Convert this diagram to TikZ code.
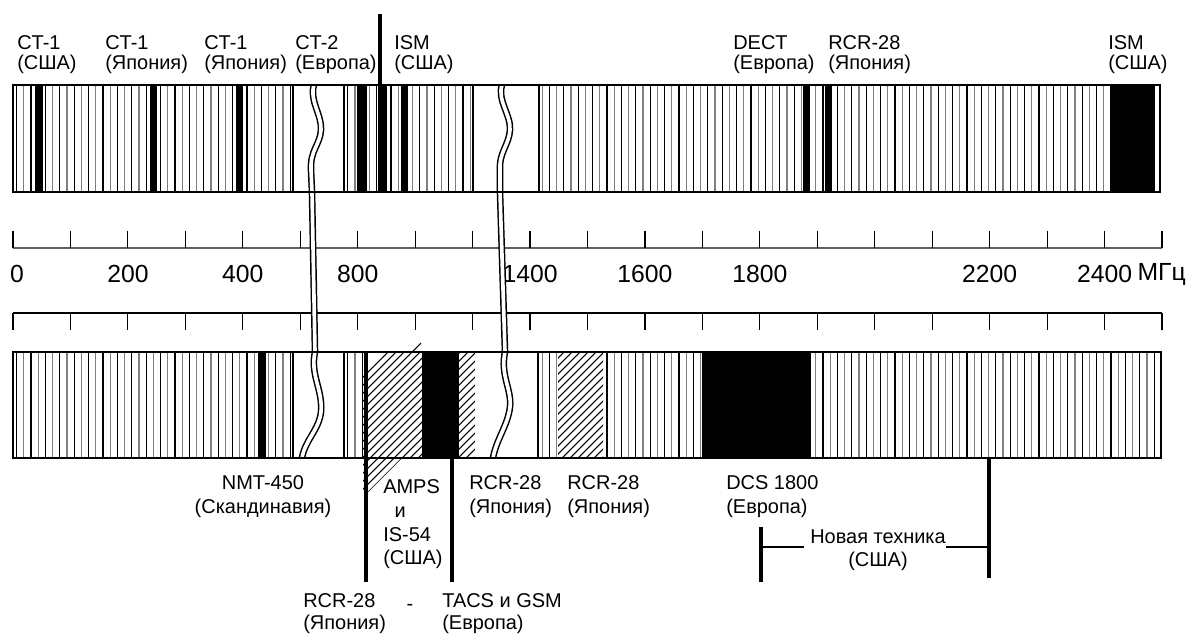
\documentclass[tikz,border=0pt]{standalone}
\usepackage{fontspec}
\setmainfont{Liberation Sans}

\tikzset{
  barframe/.style={line width=2.1pt},
  stripe/.style={line width=0.75pt},
  gapbox/.style={fill=white, draw=black, line width=2.1pt},
  wave/.style={draw=black, double=white, double distance=2.6pt, line width=1.05pt},
  hatch/.style={line width=0.75pt},
  pointer/.style={line width=2.8pt},
  lbl/.style={inner sep=0pt, anchor=north west, align=left, font=\fontsize{14.2pt}{17pt}\selectfont},
  toplbl/.style={lbl, font=\fontsize{14.2pt}{14.4pt}\selectfont},
  scalelbl/.style={inner sep=0pt, font=\fontsize{17.6pt}{20pt}\selectfont},
}

% diagonal hatch inside the lower band, between two x positions
\newcommand{\hatchfill}[2]{%
  \begin{scope}
    \clip (#1,352) rectangle (#2,458);
    \fill[white] (#1,352) rectangle (#2,458);
    \foreach \k in {240,248,...,620}
      \draw[hatch] (\k,500) -- ++(160,-160);
  \end{scope}}

\begin{document}
\begin{tikzpicture}[x=0.025cm, y=-0.025cm]
    \useasboundingbox (0,0) rectangle (1198,633);

    % stripes of both bands
    \foreach \yt/\yb in {85/192,352/458} {
      \begin{scope}
        \clip (13,\yt) rectangle (1160,\yb);
        \foreach \i in {0,...,80} {
          \draw[stripe] ({16.6+14.4*\i},\yt) -- ({16.6+14.4*\i},\yb);
          \draw[stripe, gray] ({23.8+14.4*\i},\yt) -- ({23.8+14.4*\i},\yb);
        }
      \end{scope}
    }

    % upper band
    \foreach \a/\b in {35/43,150/157,236/243,357/367,378/387,401/408,803/810,825/832,1111/1155}
      \fill (\a,85) rectangle (\b,192);
    \draw[gapbox] (293,85) rectangle (344,192);
    \draw[gapbox] (473,85) rectangle (539,192);

    % lower band
    \hatchfill{363}{422}
    \begin{scope}
      \clip (363,458) -- (402,458) -- (366,494) -- (363,494) -- cycle;
      \foreach \k in {240,248,...,620}
        \draw[hatch] (\k,500) -- ++(160,-160);
    \end{scope}
    \draw[hatch] (412,352) -- (421,343);
    \hatchfill{459}{475}
    \hatchfill{558}{603}
    \foreach \a/\b in {258/266,422/459,702/811}
      \fill (\a,352) rectangle (\b,458);
    \draw[gapbox] (293,352) rectangle (344,458);
    \fill[white] (475,352) rectangle (538,458);
    \draw[line width=2.1pt] (538,352) -- (538,458);

    % scales
    \draw[gray!75!black, line width=1.5pt] (13,248) -- (1162,248);
    \draw[line width=0.9pt] (13,313) -- (1162,313);
    \foreach \i in {0,...,20} {
      \draw[line width=0.8pt] ({13+57.45*\i},231) -- ({13+57.45*\i},248);
      \draw[line width=0.8pt] ({13+57.45*\i},313) -- ({13+57.45*\i},330);
    }
    \node[scalelbl] (t0) at (17,274) {0};
    \foreach \v/\i in {200/2,400/4,800/6,1400/9,1600/11,1800/13,2200/17,2400/19}
      \node[scalelbl] (t\i) at ({13+57.45*\i},274) {\v};
    \node[scalelbl, anchor=west] (mhz) at ([xshift=3.5pt]t19.east) {МГц};

    % breaks
    \draw[wave] (314,85) .. controls (309,100) and (322,115) .. (321,130)
      .. controls (320,145) and (310,150) .. (311,170) -- (312,192) -- (315,352)
      .. controls (310,375) and (323,390) .. (321,412)
      .. controls (319,430) and (305,440) .. (302,458);
    \draw[wave] (502,85) .. controls (497,100) and (511,115) .. (510,130)
      .. controls (509,145) and (499,152) .. (500,170) -- (500,192) -- (505,352)
      .. controls (500,375) and (512,390) .. (510,407)
      .. controls (508,425) and (496,440) .. (493,458);

    \draw[barframe] (13,85) rectangle (1160,192);
    \draw[barframe] (13,352) rectangle (1161,458);

    % pointers
    \coordinate (ismtop) at (380,14);
    \draw[line width=2.5pt] (ismtop) -- (380,85);
    \coordinate (rcrfoot) at (366,582);
    \coordinate (tacsfoot) at (452,582);
    \draw[pointer] (366,352) -- (rcrfoot);
    \draw[pointer] (452,458) -- (tacsfoot);
    \coordinate (newl) at (761,547);
    \coordinate (newr) at (989,547);
    \draw[pointer] (989,458) -- (989,578);
    \draw[pointer] (761,527) -- (761,582);

    % labels above
    \node[toplbl] (ctusa) at (17,35) {CT-1\\(США)};
    \node[toplbl] (ctjpa) at (105,35) {CT-1\\(Япония)};
    \node[toplbl] (ctjpb) at (204,35) {CT-1\\(Япония)};
    \node[toplbl] (cteu) at (295,35) {CT-2\\(Европа)};
    \node[toplbl] (ismusa) at (394,35) {ISM\\(США)};
    \node[toplbl] (dect) at (733,35) {DECT\\(Европа)};
    \node[toplbl] (rcrtop) at (828,35) {RCR-28\\(Япония)};
    \node[toplbl] (ismusb) at (1108,35) {ISM\\(США)};

    % labels below
    \node[lbl, align=center, anchor=north] (nmt) at (263,475) {NMT-450\\(Скандинавия)};
    \node[lbl] (amps) at (383,479) {AMPS\\\hspace*{8pt}и\\IS-54\\(США)};
    \node[lbl] (rcra) at (469,475) {RCR-28\\(Япония)};
    \node[lbl] (rcrb) at (567,475) {RCR-28\\(Япония)};
    \node[lbl] (dcs) at (726,475) {DCS 1800\\(Европа)};
    \node[lbl, align=center, anchor=north] (newtech) at (878,529) {Новая техника\\(США)};
    \node[lbl, font=\fontsize{14.2pt}{16pt}\selectfont] (rcrc) at (303,593) {RCR-28\\(Япония)};
    \node[lbl, anchor=center] (dash) at (410,607) {-};
    \node[lbl, font=\fontsize{14.2pt}{16pt}\selectfont] (tacs) at (442,593) {TACS и GSM\\(Европа)};

    \draw[line width=0.8pt] (newl) -- ([xshift=-4pt]newtech.north west |- newl);
    \draw[line width=0.8pt] (newr) -- (newtech.north east |- newr);
\end{tikzpicture}
\end{document}
